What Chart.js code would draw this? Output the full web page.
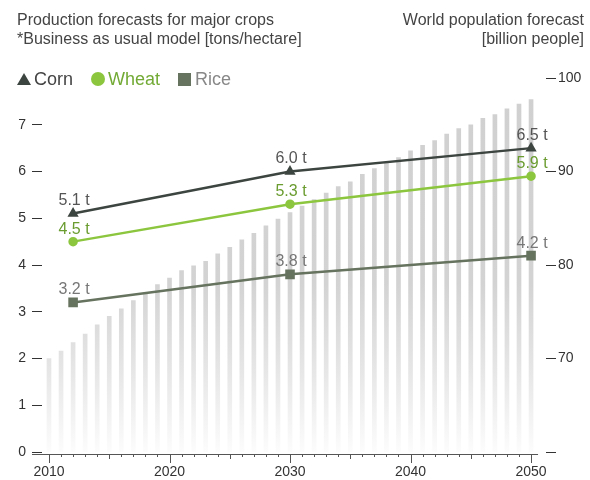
<!DOCTYPE html>
<html>
<head>
<meta charset="utf-8">
<script src="https://cdn.jsdelivr.net/npm/chart.js@4/dist/chart.umd.min.js"></script>
<style>
  body { margin: 0; background: #fff; font-family: "Liberation Sans", Arial, sans-serif; }
  #wrap { position: relative; width: 590px; height: 480px; }
  .title { position: absolute; top: 10px; font-size: 16px; line-height: 19px; color: #444; }
  #titleLeft { left: 17px; }
  #titleRight { right: 6px; text-align: right; }
  #legend { position: absolute; left: 17px; top: 68px; font-size: 18px; line-height: 22px; display: flex; align-items: center; }
  #legend span { display: inline-block; }
  .tri { width: 0; height: 0; border-left: 7px solid transparent; border-right: 7px solid transparent; border-bottom: 12px solid #3d4540; margin-right: 3px; }
  .dot { width: 14px; height: 14px; border-radius: 50%; background: #8cc63f; margin-right: 3px; }
  .sq { width: 13px; height: 13px; background: #66735e; margin-right: 4px; }
</style>
</head>
<body>
<div id="wrap">
  <canvas id="cropChart" width="590" height="480"></canvas>
  <div class="title" id="titleLeft">Production forecasts for major crops<br>*Business as usual model [tons/hectare]</div>
  <div class="title" id="titleRight">World population forecast<br>[billion people]</div>
  <div id="legend">
    <span class="tri"></span><span style="color:#444;margin-right:18px">Corn</span>
    <span class="dot"></span><span style="color:#72aa35;margin-right:18px">Wheat</span>
    <span class="sq"></span><span style="color:#888">Rice</span>
  </div>
</div>
<script>
const popYears = [2010, 2011, 2012, 2013, 2014, 2015, 2016, 2017, 2018, 2019,
                  2020, 2021, 2022, 2023, 2024, 2025, 2026, 2027, 2028, 2029,
                  2030, 2031, 2032, 2033, 2034, 2035, 2036, 2037, 2038, 2039,
                  2040, 2041, 2042, 2043, 2044, 2045, 2046, 2047, 2048, 2049, 2050];
const population = [70.0, 70.8, 71.7, 72.6, 73.6, 74.5, 75.3, 76.2, 77.0, 77.9,
                    78.6, 79.4, 79.9, 80.4, 81.2, 81.9, 82.7, 83.4, 84.2, 84.9,
                    85.6, 86.3, 87.0, 87.7, 88.4, 88.9, 89.7, 90.3, 90.9, 91.5,
                    92.2, 92.8, 93.3, 94.0, 94.6, 95.0, 95.7, 96.1, 96.7, 97.2, 97.7];
const cropYears = [2012, 2030, 2050];
const corn = [5.1, 6.0, 6.5];
const wheat = [4.5, 5.3, 5.9];
const rice = [3.2, 3.8, 4.2];
const yieldTicks = [0, 1, 2, 3, 4, 5, 6, 7];
const popTicks = [60, 70, 80, 90, 100];
const yearTicks = [2010, 2020, 2030, 2040, 2050];

const toPoints = (xs, ys) => xs.map((x, i) => ({ x: x, y: ys[i] }));

function barGradient(ctx) {
    const chart = ctx.chart;
    const area = chart.chartArea;
    if (!area) return "#d3d3d3";
    const g = chart.ctx.createLinearGradient(0, area.top, 0, area.bottom);
    g.addColorStop(0, "#d0d0d0");
    g.addColorStop(0.55, "#d3d3d3");
    g.addColorStop(0.78, "#e6e6e6");
    g.addColorStop(1, "#fcfcfc");
    return g;
}

// year axis line with minor / mid / major tick marks
const yearAxis = {
    id: "yearAxis",
    afterDraw(chart) {
        const c = chart.ctx;
        const x = chart.scales.x;
        const y0 = chart.chartArea.bottom + 2;
        c.save();
        c.strokeStyle = "#555";
        c.lineWidth = 1;
        c.beginPath();
        c.moveTo(x.getPixelForValue(2010) - 17, y0 + 0.5);
        c.lineTo(x.getPixelForValue(2050) + 7, y0 + 0.5);
        popYears.forEach(v => {
            const px = Math.round(x.getPixelForValue(v)) + 0.5;
            const len = v % 10 === 0 ? 9 : (v % 5 === 0 ? 5 : 3);
            c.moveTo(px, y0);
            c.lineTo(px, y0 + len);
        });
        c.stroke();
        c.restore();
    }
};

// value labels above the crop points
const pointLabels = {
    id: "pointLabels",
    afterDatasetsDraw(chart) {
        const c = chart.ctx;
        c.save();
        c.font = "16px 'Liberation Sans', Arial, sans-serif";
        c.textAlign = "center";
        c.textBaseline = "middle";
        chart.data.datasets.forEach((ds, i) => {
            if (ds.type !== "line") return;
            chart.getDatasetMeta(i).data.forEach((pt, j) => {
                c.fillStyle = ds.labelColor;
                c.fillText(ds.data[j].y.toFixed(1) + " t", pt.x + 1, pt.y - 12.5);
            });
        });
        c.restore();
    }
};

Chart.defaults.font.family = "'Liberation Sans', Arial, sans-serif";

new Chart(document.getElementById("cropChart").getContext("2d"), {
    data: {
        datasets: [{
            type: "line",
            label: "Corn",
            data: toPoints(cropYears, corn),
            borderColor: "#3d4540",
            backgroundColor: "#3d4540",
            borderWidth: 2.5,
            pointStyle: "triangle",
            pointRadius: 4,
            labelColor: "#555",
            yAxisID: "y",
            order: 1
        }, {
            type: "line",
            label: "Wheat",
            data: toPoints(cropYears, wheat),
            borderColor: "#8cc63f",
            backgroundColor: "#8cc63f",
            borderWidth: 2.5,
            pointStyle: "circle",
            pointRadius: 3.5,
            labelColor: "#6a9c30",
            yAxisID: "y",
            order: 2
        }, {
            type: "line",
            label: "Rice",
            data: toPoints(cropYears, rice),
            borderColor: "#66735e",
            backgroundColor: "#66735e",
            borderWidth: 2.5,
            pointStyle: "rect",
            pointRadius: 5,
            labelColor: "#777",
            yAxisID: "y",
            order: 3
        }, {
            type: "bar",
            label: "Population",
            data: toPoints(popYears, population),
            backgroundColor: barGradient,
            barThickness: 4,
            grouped: false,
            yAxisID: "y2",
            order: 10
        }]
    },
    options: {
        responsive: false,
        animation: false,
        layout: { padding: { top: 78, left: 0, right: 0, bottom: 0 } },
        plugins: { legend: { display: false }, tooltip: { enabled: false } },
        scales: {
            x: {
                type: "linear",
                offset: false,
                min: 2009.42,
                max: 2051.24,
                afterBuildTicks: s => { s.ticks = yearTicks.map(v => ({ value: v })); },
                afterFit: s => { s.height = 28; },
                ticks: { autoSkip: false, maxRotation: 0, padding: 12, color: "#333", font: { size: 14 }, callback: v => String(v) },
                grid: { display: false, drawTicks: false },
                border: { display: false }
            },
            y: {
                position: "left",
                min: 0,
                max: 8,
                afterBuildTicks: s => { s.ticks = yieldTicks.map(v => ({ value: v })); },
                afterFit: s => { s.width = 42; },
                ticks: { padding: 6, color: "#333", font: { size: 14 } },
                grid: { drawOnChartArea: false, tickLength: 10, tickColor: "#333" },
                border: { display: false }
            },
            y2: {
                position: "right",
                min: 60,
                max: 100,
                afterBuildTicks: s => { s.ticks = popTicks.map(v => ({ value: v })); },
                afterFit: s => { s.width = 44; },
                ticks: { padding: 2, color: "#333", font: { size: 14 }, callback: v => v === 60 ? "" : v },
                grid: { drawOnChartArea: false, tickLength: 10, tickColor: "#333" },
                border: { display: false }
            }
        }
    },
    plugins: [yearAxis, pointLabels]
});
</script>
</body>
</html>
